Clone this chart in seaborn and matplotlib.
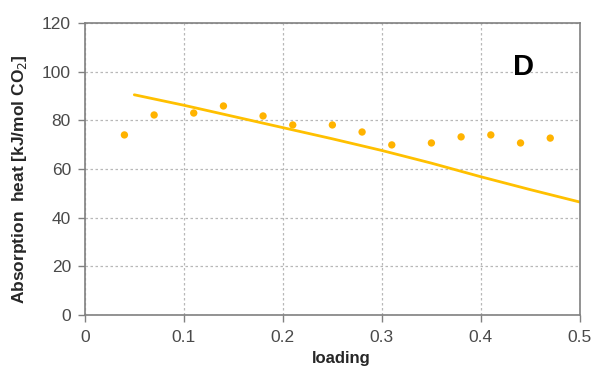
import numpy as np
import pandas as pd
import matplotlib.pyplot as plt
import seaborn as sns

# measured points
loading = [0.04, 0.07, 0.11, 0.14, 0.18, 0.21, 0.25, 0.28, 0.31, 0.35, 0.38, 0.41, 0.44, 0.47]
heat = [74.0, 82.2, 83.0, 85.9, 81.8, 78.1, 78.1, 75.2, 69.9, 70.7, 73.2, 74.0, 70.7, 72.7]

# model curve
model_x = [0.05, 0.10, 0.15, 0.20, 0.25, 0.30, 0.35, 0.40, 0.45, 0.50]
model_y = [90.5, 86.2, 81.6, 77.0, 72.4, 67.6, 62.4, 56.8, 51.5, 46.4]

pts = pd.DataFrame({"loading": loading, "heat": heat})
curve = pd.DataFrame({"loading": model_x, "heat": model_y})

sns.set_style("white")
plt.rcParams["font.family"] = ["Liberation Sans", "DejaVu Sans"]

fig = plt.figure(figsize=(5.93, 3.71), dpi=100)
ax = fig.add_axes([0.143, 0.151, 0.835, 0.787])

sns.lineplot(data=curve, x="loading", y="heat", ax=ax, color="#FFC000", linewidth=2)
sns.scatterplot(data=pts, x="loading", y="heat", ax=ax, color="#FFB300",
                s=28, edgecolor="none")

ax.set_xlim(0, 0.5)
ax.set_ylim(0, 120)
ax.set_xticks([0, 0.1, 0.2, 0.3, 0.4, 0.5])
ax.set_xticklabels(["0", "0.1", "0.2", "0.3", "0.4", "0.5"])
ax.set_yticks(range(0, 121, 20))
ax.grid(True, color="#b8b8b8", linestyle=(0, (2, 2)), linewidth=0.9)
for s in ax.spines.values():
    s.set_color("#808080")
    s.set_linewidth(1.2)
ax.tick_params(axis="both", labelsize=12.5, colors="#4a4a4a", length=5,
               width=1, color="#808080", direction="out", bottom=True, left=True)
ax.tick_params(axis="x", pad=6)
ax.tick_params(axis="y", pad=5)

ax.set_xlabel("loading", fontsize=12, fontweight="bold")
ax.xaxis.set_label_coords(0.517, -0.125)
ax.set_ylabel("Absorption  heat [kJ/mol CO$_2$]", fontsize=12.5, fontweight="bold")
ax.yaxis.set_label_coords(-0.113, 0.466)
ax.text(0.4434, 102, "D", fontsize=21, fontweight="bold", color="black",
        ha="center", va="center")

fig.savefig("out.png", dpi=100)
